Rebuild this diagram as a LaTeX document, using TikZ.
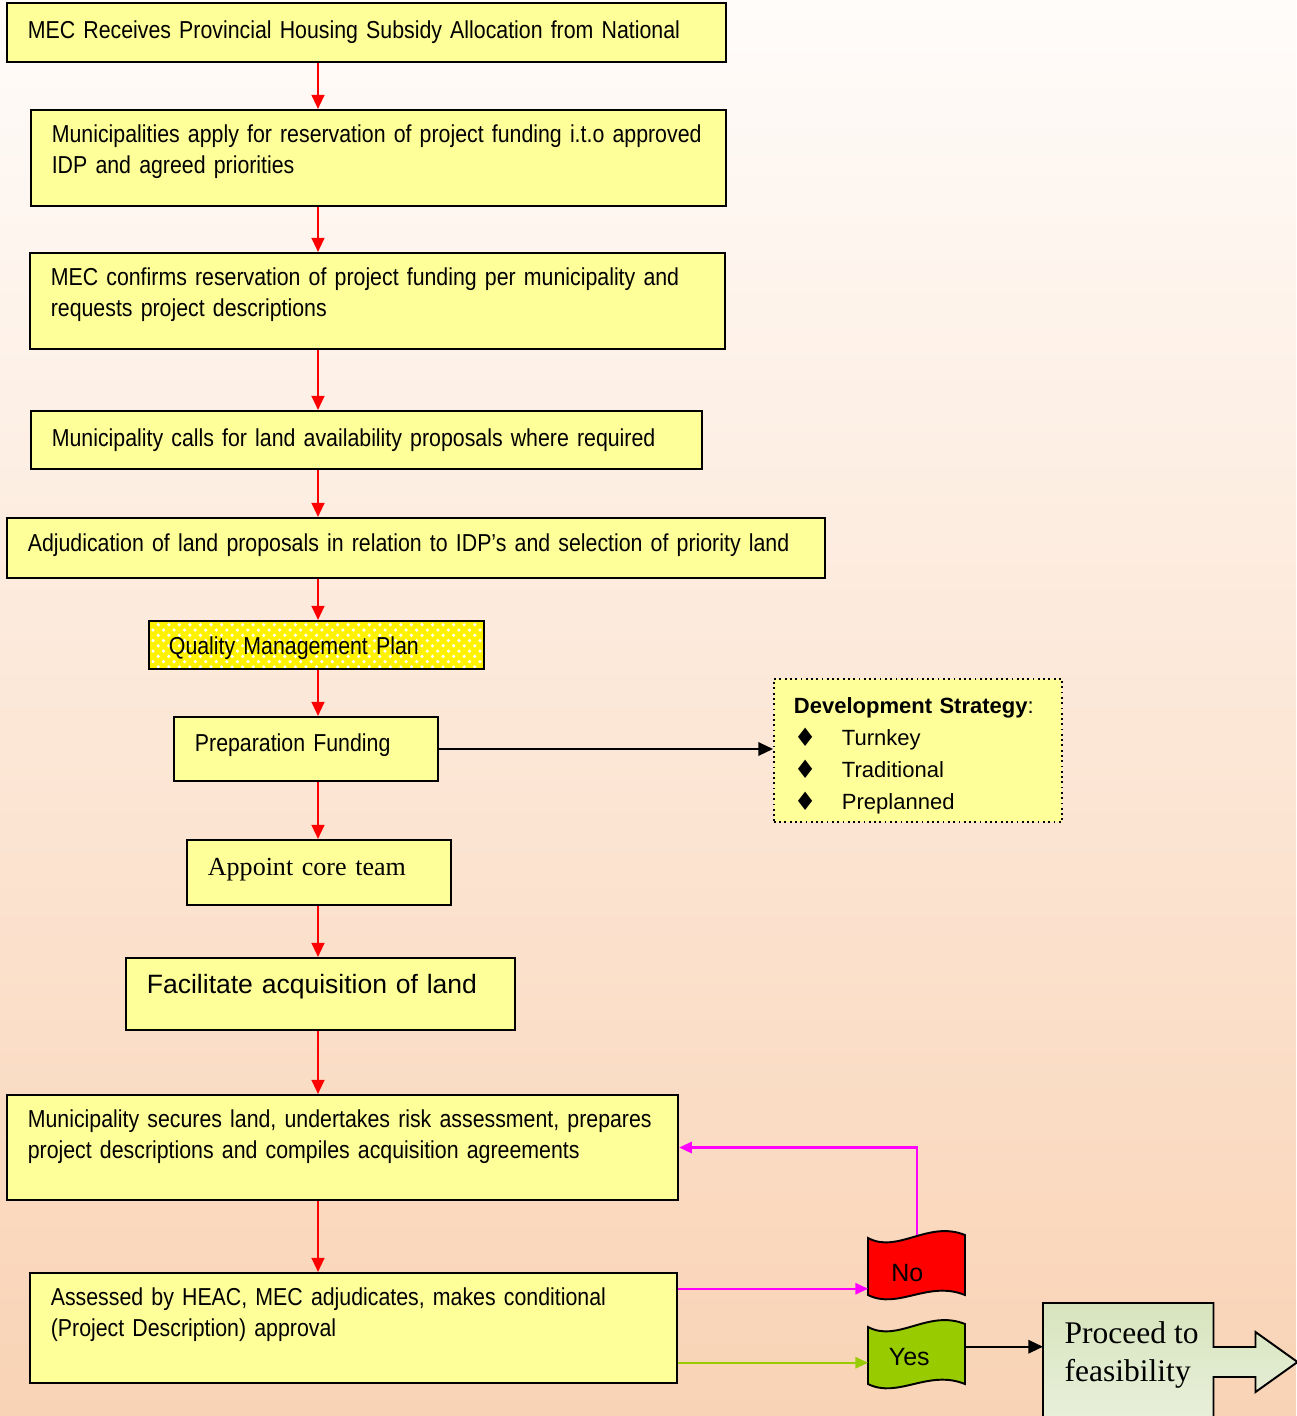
\documentclass[tikz,border=0pt]{standalone}
\usepackage{fontspec}
\setmainfont{Liberation Sans}[FakeStretch=0.87]
\newfontfamily\widesans{Liberation Sans}
\newfontfamily\timesface{Liberation Serif}
\newfontfamily\symbolface{DejaVu Sans}
\usepackage{xcolor}
\usepackage{tikz}
\usetikzlibrary{calc, positioning, arrows.meta, patterns, backgrounds}

\definecolor{boxyellow}{HTML}{FFFF99}
\definecolor{pagetop}{HTML}{FFFCFA}
\definecolor{pagebottom}{HTML}{F9D3B5}
\definecolor{yesgreen}{HTML}{99CC00}
\definecolor{nomagenta}{HTML}{FF00FF}
\definecolor{proceedtop}{HTML}{D7E4BD}
\definecolor{proceedbottom}{HTML}{EBF1DE}

\newdimen\pxu \pxu=0.28453pt
\newcommand{\dpad}[1]{\rule[-#1\pxu]{0pt}{0pt}}
\newcommand{\upad}[1]{\rule{0pt}{#1\pxu}}
\newcommand{\diam}{\makebox[0.48cm][l]{\raisebox{-0.4pt}{\symbolface\fontsize{7.2pt}{9pt}\selectfont ♦}}}
\newcommand{\wavebox}[2]{%
  \filldraw[fill=#2, draw=black, line width=0.55pt, shift={(#1.north west)}]
    (0,6) .. controls (30,22) and (60,-12) .. (97,3)
    -- (97,63) .. controls (60,48) and (30,78) .. (0,63) -- cycle;}

\tikzset{
    stepbox/.style={rectangle, draw=black, line width=0.55pt, fill=boxyellow, align=left, inner xsep=0.21cm, inner ysep=0pt, font=\fontsize{6.97pt}{8.8pt}\selectfont},
    qmpbox/.style={rectangle, draw=black, line width=0.55pt, preaction={fill=yellow}, pattern=crosshatch dots, pattern color=white, align=left, inner xsep=0.2cm, inner ysep=0pt, font=\fontsize{6.97pt}{8.8pt}\selectfont},
    devbox/.style={rectangle, draw=black, densely dotted, line width=0.5pt, fill=boxyellow, align=left, text width=2.48cm, minimum height=1.43cm, inner xsep=0.2cm, inner ysep=0pt, font=\widesans\fontsize{6.26pt}{9.1pt}\selectfont},
    flagbox/.style={rectangle, minimum width=0.97cm, minimum height=0.70cm, inner sep=0pt, font=\widesans\fontsize{7.1pt}{8.5pt}\selectfont},
    proceedbox/.style={rectangle, minimum width=1.69cm, minimum height=1.30cm, inner sep=0pt},
    proceedtext/.style={align=left, inner sep=0pt, font=\timesface\fontsize{8.96pt}{10.8pt}\selectfont},
    flow/.style={-{Triangle[length=4pt, width=3.6pt]}, red, line width=0.65pt},
    plain/.style={-{Triangle[length=4.2pt, width=3.8pt]}, black, line width=0.65pt},
    noline/.style={-{Triangle[length=3.6pt, width=3.2pt]}, nomagenta, line width=0.6pt},
    yesline/.style={-{Triangle[length=3.6pt, width=3.2pt]}, yesgreen, line width=0.6pt}
}

\begin{document}
\begin{tikzpicture}[x=0.01cm, y=-0.01cm]
    \useasboundingbox (0,0) rectangle (1296,1416);
    \coordinate (spine) at (318,0);

    % Main chain
    \node[stepbox, text width=6.77cm, minimum height=0.59cm] (alloc) at (366.5,32.5) {\mbox{MEC Receives Provincial Housing Subsidy Allocation from National}};
    \node[stepbox, text width=6.53cm, minimum height=0.96cm] (apply) at (378.5,158) {\mbox{Municipalities apply for reservation of project funding i.t.o approved}\\IDP and agreed priorities\dpad{18}};
    \node[stepbox, text width=6.53cm, minimum height=0.96cm] (confirm) at (377.5,301) {\mbox{MEC confirms reservation of project funding per municipality and}\\requests project descriptions\dpad{17}};
    \node[stepbox, text width=6.29cm, minimum height=0.58cm] (landcall) at (366.5,440) {\mbox{Municipality calls for land availability proposals where required}};
    \node[stepbox, text width=7.76cm, minimum height=0.60cm] (adjudicate) at (416,548) {\mbox{Adjudication of land proposals in relation to IDP’s and selection of priority land}\dpad{11}};
    \node[qmpbox, text width=2.95cm, minimum height=0.48cm] (qmp) at (316.5,645) {\upad{24}Quality Management Plan};
    \node[stepbox, text width=2.22cm, minimum height=0.64cm] (prep) at (306,749) {Preparation Funding\dpad{13}};
    \node[stepbox, text width=2.22cm, minimum height=0.65cm, font=\timesface\fontsize{7.4pt}{9pt}\selectfont] (core) at (319,872.5) {Appoint core team\dpad{12}};
    \node[stepbox, text width=3.47cm, minimum height=0.72cm, font=\widesans\fontsize{7.54pt}{9pt}\selectfont] (acquire) at (320.5,994) {Facilitate acquisition of land\dpad{20}};
    \node[stepbox, text width=6.29cm, minimum height=1.05cm] (secure) at (342.5,1147.5) {\mbox{Municipality secures land, undertakes risk assessment, prepares}\\\mbox{project descriptions and compiles acquisition agreements}\dpad{27}};
    \node[stepbox, text width=6.05cm, minimum height=1.10cm] (assess) at (353.5,1328) {\mbox{Assessed by HEAC, MEC adjudicates, makes conditional}\\(Project Description) approval\dpad{32}};

    % Side boxes
    \node[devbox] (strategy) at (918,750.5) {\upad{26}{\bfseries Development Strategy}:\\\diam Turnkey\\\diam Traditional\\\diam Preplanned};
    \node[flagbox, anchor=north west] (no) at (868,1232) {\hspace{-0.2cm}\upad{28}No};
    \node[flagbox, anchor=north west] (yes) at (868,1321) {\hspace{-0.16cm}Yes};
    \node[proceedbox, anchor=north west] (proceed) at (1043,1303) {};
    \node[proceedtext, anchor=north west] (proceedtxt) at ([shift={(21,18)}]proceed.north west) {Proceed to\\feasibility};

    % Flow arrows
    \draw[flow] (alloc.south -| spine) -- (apply.north -| spine);
    \draw[flow] (apply.south -| spine) -- (confirm.north -| spine);
    \draw[flow] (confirm.south -| spine) -- (landcall.north -| spine);
    \draw[flow] (landcall.south -| spine) -- (adjudicate.north -| spine);
    \draw[flow] (adjudicate.south -| spine) -- (qmp.north -| spine);
    \draw[flow] (qmp.south -| spine) -- (prep.north -| spine);
    \draw[flow] (prep.south -| spine) -- (core.north -| spine);
    \draw[flow] (core.south -| spine) -- (acquire.north -| spine);
    \draw[flow] (acquire.south -| spine) -- (secure.north -| spine);
    \draw[flow] (secure.south -| spine) -- (assess.north -| spine);

    \draw[plain] (prep.east) -- (prep.east -| strategy.west);

    % Decision
    \coordinate (noin) at ([shift={(0,21)}]no.west);
    \draw[noline] (noin -| assess.east) -- (noin);
    \coordinate (notop) at ([shift={(0,3)}]no.north);
    \draw[noline] (notop) |- (secure.east);
    \coordinate (yesin) at ([shift={(0,6)}]yes.west);
    \draw[yesline] (yesin -| assess.east) -- (yesin);
    \coordinate (yesout) at ([shift={(0,-10)}]yes.east);
    \draw[plain] (yesout) -- (yesout -| proceed.west);

    % Backdrop and shapes
    \begin{scope}[on background layer]
        \shade[top color=pagetop, bottom color=pagebottom] (0,0) rectangle (1296,1416);
        \wavebox{no}{red}
        \wavebox{yes}{yesgreen}
        \shadedraw[top color=proceedtop, bottom color=proceedbottom, draw=black, line width=0.55pt]
            (proceed.north west) -- (proceed.north east) -- ++(0,44) -- ++(42,0) -- ++(0,-15) -- ++(42,30) -- ++(-42,30) -- ++(0,-15) -- ++(-42,0) -- (proceed.south east) -- (proceed.south west) -- cycle;
    \end{scope}
\end{tikzpicture}
\end{document}
